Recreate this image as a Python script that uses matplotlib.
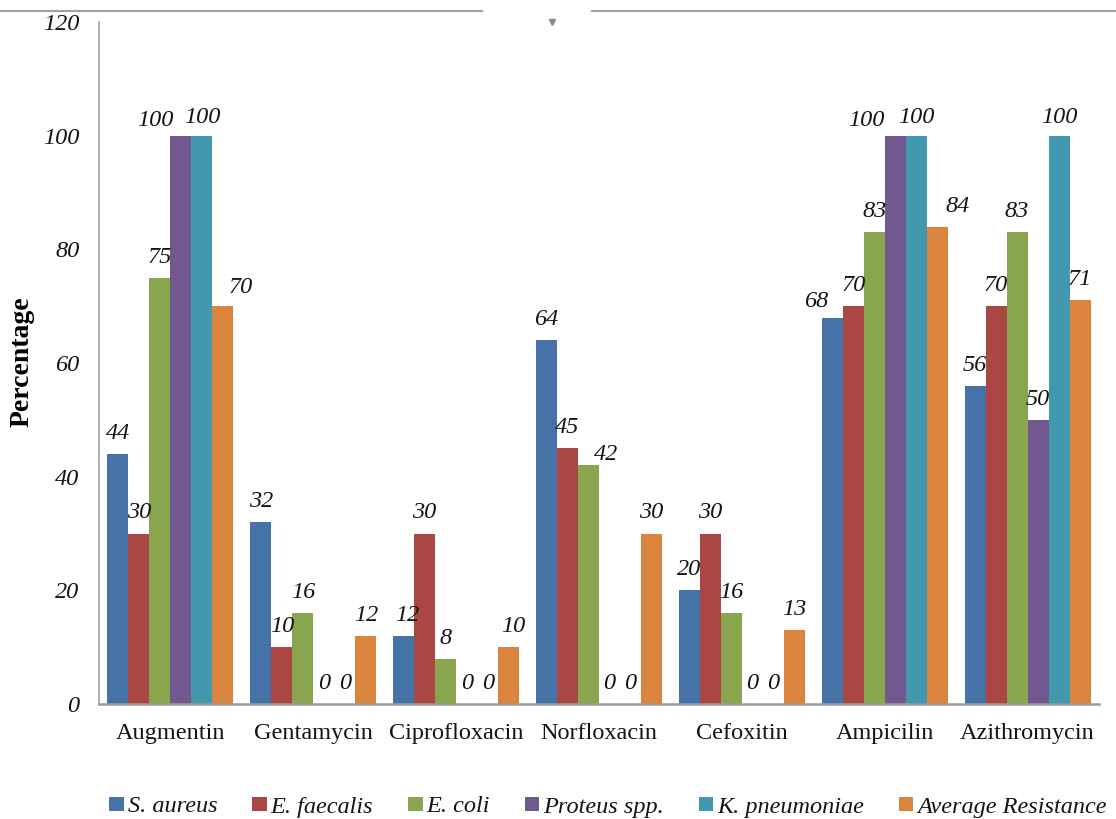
import numpy as np
import matplotlib.pyplot as plt
from matplotlib.lines import Line2D

plt.rcParams['font.family'] = ['Liberation Serif', 'DejaVu Serif']

# data
antibiotics = ["Augmentin", "Gentamycin", "Ciprofloxacin", "Norfloxacin",
               "Cefoxitin", "Ampicilin", "Azithromycin"]
s_aureus = [44, 32, 12, 64, 20, 68, 56]
e_faecalis = [30, 10, 30, 45, 30, 70, 70]
e_coli = [75, 16, 8, 42, 16, 83, 83]
proteus = [100, 0, 0, 0, 0, 100, 50]
k_pneumoniae = [100, 0, 0, 0, 0, 100, 100]
avg_resistance = [70, 12, 10, 30, 13, 84, 71]
series_names = ["S. aureus", "E. faecalis", "E. coli", "Proteus spp.",
                "K. pneumoniae", "Average Resistance"]
yticks = [0, 20, 40, 60, 80, 100, 120]

series = [s_aureus, e_faecalis, e_coli, proteus, k_pneumoniae, avg_resistance]
colors = ['#4572A7', '#AA4643', '#89A54E', '#71588F', '#4198AF', '#DB843D']
txt = '#141414'
fs = 17.5

# label nudges in pixels (dx, gap above bar) where labels were moved by hand
nudge = {(0, 3): (-26, 10), (0, 4): (0, 13), (0, 5): (18, 13),
         (2, 0): (4, 15), (2, 5): (5, 15), (3, 2): (18, 5),
         (5, 0): (-16, 11), (5, 3): (-29, 10), (5, 4): (0, 13),
         (5, 5): (20, 15), (6, 4): (0, 13)}

fig = plt.figure(figsize=(11.16, 8.19), dpi=100)
ax = fig.add_axes([99/1116, 1 - 704/819, 1000/1116, 682/819])

x = np.arange(len(antibiotics))
w = 0.147
for j, (vals, name, c) in enumerate(zip(series, series_names, colors)):
    pos = x + (j - 2.5) * w
    ax.bar(pos, vals, w, color=c, label=name, linewidth=0)
    for i, v in enumerate(vals):
        dx, gap = nudge.get((i, j), (0, 15))
        ax.annotate(str(v), (pos[i], v), xytext=(dx, gap),
                    textcoords='offset pixels', ha='center', va='baseline',
                    fontsize=fs, style='italic', color=txt)

ax.set_xlim(-0.5, len(antibiotics) - 0.5)
ax.set_ylim(0, 120)
ax.set_yticks(yticks)
ax.set_yticklabels([str(t) for t in yticks], style='italic', fontsize=fs)
ax.set_xticks(x)
ax.set_xticklabels(antibiotics, fontsize=fs)
ax.tick_params(axis='y', length=0, pad=14, colors=txt)
ax.tick_params(axis='x', length=0, pad=14, colors=txt)

for side in ['top', 'right']:
    ax.spines[side].set_visible(False)
ax.spines['left'].set_color('#a0a0a0')
ax.spines['left'].set_linewidth(1.2)
ax.spines['bottom'].set_color('#9a9a9a')
ax.spines['bottom'].set_linewidth(1.8)

fig.text(22/1116, 1 - 362/819, "Percentage", rotation=90, ha='center',
         va='center', fontsize=20, fontweight='bold', color='black')

leg = fig.legend(loc='center', bbox_to_anchor=(608/1116, 1 - 807/819), ncol=6,
                 frameon=False, handlelength=0.6, handleheight=0.5,
                 handletextpad=0.15, columnspacing=1.44,
                 prop={'style': 'italic', 'size': fs})
for t in leg.get_texts():
    t.set_color(txt)

# the grey border line across the top of the original image
fig.add_artist(Line2D([0, 482/1116], [1 - 11/819, 1 - 11/819],
                      color='#a0a0a0', lw=1.5))
fig.add_artist(Line2D([592/1116, 1], [1 - 11/819, 1 - 11/819],
                      color='#a0a0a0', lw=1.5))
fig.add_artist(Line2D([552/1116], [1 - 22/819], marker='v', markersize=4,
                      color='#888888', lw=0))

fig.savefig("out.png", dpi=100)
